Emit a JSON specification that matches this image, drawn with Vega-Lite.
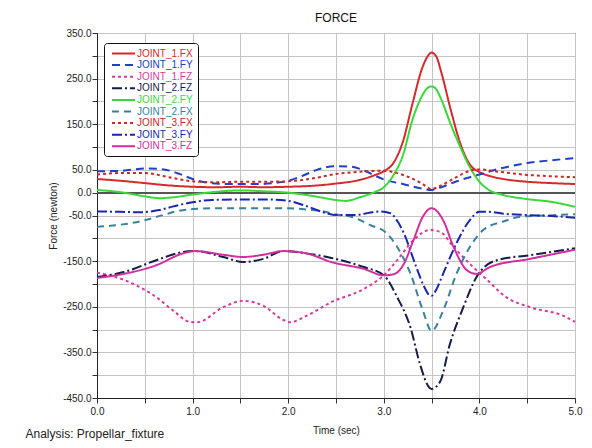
{
"$schema": "https://vega.github.io/schema/vega-lite/v6.json",
"width": 478, "height": 365,
"autosize": "none",
"padding": {"left": 97, "top": 33, "right": 17, "bottom": 50},
"background": "white",
"config": {"view": {"stroke": "#222", "strokeWidth": 1}, "font": "Liberation Sans"},
"title": {"text": "FORCE", "fontSize": 12, "font": "Liberation Sans", "fontWeight": "normal", "color": "#111", "offset": 3, "anchor": "middle"},
"data": {"values": [
{"s":"JOINT_1.FX","t":0,"v":30},{"s":"JOINT_1.FX","t":0.25,"v":26},{"s":"JOINT_1.FX","t":0.5,"v":21},{"s":"JOINT_1.FX","t":0.75,"v":16},{"s":"JOINT_1.FX","t":1,"v":13},{"s":"JOINT_1.FX","t":1.25,"v":12},{"s":"JOINT_1.FX","t":1.5,"v":13},{"s":"JOINT_1.FX","t":1.75,"v":12},{"s":"JOINT_1.FX","t":2,"v":13},{"s":"JOINT_1.FX","t":2.25,"v":15},{"s":"JOINT_1.FX","t":2.5,"v":20},{"s":"JOINT_1.FX","t":2.75,"v":28},{"s":"JOINT_1.FX","t":2.9,"v":38},{"s":"JOINT_1.FX","t":3,"v":47},{"s":"JOINT_1.FX","t":3.1,"v":65},{"s":"JOINT_1.FX","t":3.2,"v":112},{"s":"JOINT_1.FX","t":3.3,"v":195},{"s":"JOINT_1.FX","t":3.4,"v":272},{"s":"JOINT_1.FX","t":3.45,"v":296},{"s":"JOINT_1.FX","t":3.5,"v":307},{"s":"JOINT_1.FX","t":3.55,"v":298},{"s":"JOINT_1.FX","t":3.6,"v":265},{"s":"JOINT_1.FX","t":3.7,"v":182},{"s":"JOINT_1.FX","t":3.8,"v":108},{"s":"JOINT_1.FX","t":3.9,"v":62},{"s":"JOINT_1.FX","t":4,"v":45},{"s":"JOINT_1.FX","t":4.1,"v":37},{"s":"JOINT_1.FX","t":4.25,"v":30},{"s":"JOINT_1.FX","t":4.5,"v":24},{"s":"JOINT_1.FX","t":4.75,"v":21},{"s":"JOINT_1.FX","t":5,"v":19},
{"s":"JOINT_1.FY","t":0,"v":47},{"s":"JOINT_1.FY","t":0.25,"v":48},{"s":"JOINT_1.FY","t":0.5,"v":53},{"s":"JOINT_1.FY","t":0.7,"v":51},{"s":"JOINT_1.FY","t":0.85,"v":42},{"s":"JOINT_1.FY","t":1,"v":30},{"s":"JOINT_1.FY","t":1.15,"v":22},{"s":"JOINT_1.FY","t":1.35,"v":19},{"s":"JOINT_1.FY","t":1.5,"v":19},{"s":"JOINT_1.FY","t":1.7,"v":19},{"s":"JOINT_1.FY","t":1.85,"v":21},{"s":"JOINT_1.FY","t":2,"v":26},{"s":"JOINT_1.FY","t":2.15,"v":37},{"s":"JOINT_1.FY","t":2.3,"v":50},{"s":"JOINT_1.FY","t":2.5,"v":58},{"s":"JOINT_1.FY","t":2.65,"v":57},{"s":"JOINT_1.FY","t":2.8,"v":48},{"s":"JOINT_1.FY","t":2.9,"v":38},{"s":"JOINT_1.FY","t":3,"v":29},{"s":"JOINT_1.FY","t":3.2,"v":19},{"s":"JOINT_1.FY","t":3.4,"v":9},{"s":"JOINT_1.FY","t":3.5,"v":6},{"s":"JOINT_1.FY","t":3.6,"v":12},{"s":"JOINT_1.FY","t":3.75,"v":24},{"s":"JOINT_1.FY","t":3.9,"v":34},{"s":"JOINT_1.FY","t":4,"v":40},{"s":"JOINT_1.FY","t":4.2,"v":52},{"s":"JOINT_1.FY","t":4.5,"v":65},{"s":"JOINT_1.FY","t":4.75,"v":71},{"s":"JOINT_1.FY","t":5,"v":76},
{"s":"JOINT_1.FZ","t":0,"v":-175},{"s":"JOINT_1.FZ","t":0.28,"v":-191},{"s":"JOINT_1.FZ","t":0.62,"v":-229},{"s":"JOINT_1.FZ","t":0.8,"v":-259},{"s":"JOINT_1.FZ","t":0.97,"v":-283},{"s":"JOINT_1.FZ","t":1.05,"v":-284},{"s":"JOINT_1.FZ","t":1.32,"v":-251},{"s":"JOINT_1.FZ","t":1.53,"v":-237},{"s":"JOINT_1.FZ","t":1.74,"v":-248},{"s":"JOINT_1.FZ","t":1.95,"v":-279},{"s":"JOINT_1.FZ","t":2.02,"v":-284},{"s":"JOINT_1.FZ","t":2.19,"v":-270},{"s":"JOINT_1.FZ","t":2.45,"v":-240},{"s":"JOINT_1.FZ","t":2.79,"v":-211},{"s":"JOINT_1.FZ","t":3,"v":-181},{"s":"JOINT_1.FZ","t":3.14,"v":-148},{"s":"JOINT_1.FZ","t":3.31,"v":-104},{"s":"JOINT_1.FZ","t":3.48,"v":-82},{"s":"JOINT_1.FZ","t":3.59,"v":-86},{"s":"JOINT_1.FZ","t":3.73,"v":-119},{"s":"JOINT_1.FZ","t":3.9,"v":-156},{"s":"JOINT_1.FZ","t":4.07,"v":-189},{"s":"JOINT_1.FZ","t":4.28,"v":-229},{"s":"JOINT_1.FZ","t":4.53,"v":-251},{"s":"JOINT_1.FZ","t":4.88,"v":-270},{"s":"JOINT_1.FZ","t":5,"v":-283},
{"s":"JOINT_2.FZ","t":0,"v":-185},{"s":"JOINT_2.FZ","t":0.28,"v":-174},{"s":"JOINT_2.FZ","t":0.62,"v":-148},{"s":"JOINT_2.FZ","t":0.9,"v":-130},{"s":"JOINT_2.FZ","t":1.03,"v":-128},{"s":"JOINT_2.FZ","t":1.32,"v":-141},{"s":"JOINT_2.FZ","t":1.53,"v":-152},{"s":"JOINT_2.FZ","t":1.74,"v":-145},{"s":"JOINT_2.FZ","t":1.95,"v":-128},{"s":"JOINT_2.FZ","t":2.19,"v":-133},{"s":"JOINT_2.FZ","t":2.45,"v":-143},{"s":"JOINT_2.FZ","t":2.79,"v":-163},{"s":"JOINT_2.FZ","t":3,"v":-181},{"s":"JOINT_2.FZ","t":3.14,"v":-229},{"s":"JOINT_2.FZ","t":3.28,"v":-296},{"s":"JOINT_2.FZ","t":3.38,"v":-377},{"s":"JOINT_2.FZ","t":3.48,"v":-428},{"s":"JOINT_2.FZ","t":3.5,"v":-430},{"s":"JOINT_2.FZ","t":3.59,"v":-414},{"s":"JOINT_2.FZ","t":3.69,"v":-333},{"s":"JOINT_2.FZ","t":3.83,"v":-252},{"s":"JOINT_2.FZ","t":3.97,"v":-185},{"s":"JOINT_2.FZ","t":4.18,"v":-148},{"s":"JOINT_2.FZ","t":4.53,"v":-137},{"s":"JOINT_2.FZ","t":5,"v":-122},
{"s":"JOINT_2.FY","t":0,"v":6},{"s":"JOINT_2.FY","t":0.25,"v":1},{"s":"JOINT_2.FY","t":0.5,"v":-8},{"s":"JOINT_2.FY","t":0.65,"v":-12},{"s":"JOINT_2.FY","t":0.8,"v":-10},{"s":"JOINT_2.FY","t":1,"v":-4},{"s":"JOINT_2.FY","t":1.25,"v":2},{"s":"JOINT_2.FY","t":1.5,"v":5},{"s":"JOINT_2.FY","t":1.75,"v":3},{"s":"JOINT_2.FY","t":2,"v":0},{"s":"JOINT_2.FY","t":2.25,"v":-7},{"s":"JOINT_2.FY","t":2.5,"v":-16},{"s":"JOINT_2.FY","t":2.6,"v":-18},{"s":"JOINT_2.FY","t":2.75,"v":-10},{"s":"JOINT_2.FY","t":2.9,"v":1},{"s":"JOINT_2.FY","t":3,"v":12},{"s":"JOINT_2.FY","t":3.1,"v":38},{"s":"JOINT_2.FY","t":3.2,"v":82},{"s":"JOINT_2.FY","t":3.3,"v":160},{"s":"JOINT_2.FY","t":3.4,"v":212},{"s":"JOINT_2.FY","t":3.45,"v":228},{"s":"JOINT_2.FY","t":3.5,"v":233},{"s":"JOINT_2.FY","t":3.55,"v":226},{"s":"JOINT_2.FY","t":3.6,"v":205},{"s":"JOINT_2.FY","t":3.7,"v":150},{"s":"JOINT_2.FY","t":3.8,"v":100},{"s":"JOINT_2.FY","t":3.9,"v":56},{"s":"JOINT_2.FY","t":4,"v":24},{"s":"JOINT_2.FY","t":4.1,"v":6},{"s":"JOINT_2.FY","t":4.25,"v":-5},{"s":"JOINT_2.FY","t":4.5,"v":-14},{"s":"JOINT_2.FY","t":4.75,"v":-20},{"s":"JOINT_2.FY","t":5,"v":-31},
{"s":"JOINT_2.FX","t":0,"v":-75},{"s":"JOINT_2.FX","t":0.25,"v":-70},{"s":"JOINT_2.FX","t":0.45,"v":-63},{"s":"JOINT_2.FX","t":0.69,"v":-49},{"s":"JOINT_2.FX","t":0.85,"v":-40},{"s":"JOINT_2.FX","t":1,"v":-36},{"s":"JOINT_2.FX","t":1.25,"v":-34},{"s":"JOINT_2.FX","t":1.5,"v":-34},{"s":"JOINT_2.FX","t":1.75,"v":-34},{"s":"JOINT_2.FX","t":2,"v":-34},{"s":"JOINT_2.FX","t":2.2,"v":-37},{"s":"JOINT_2.FX","t":2.37,"v":-41},{"s":"JOINT_2.FX","t":2.5,"v":-48},{"s":"JOINT_2.FX","t":2.65,"v":-52},{"s":"JOINT_2.FX","t":2.86,"v":-71},{"s":"JOINT_2.FX","t":3.03,"v":-89},{"s":"JOINT_2.FX","t":3.14,"v":-119},{"s":"JOINT_2.FX","t":3.28,"v":-178},{"s":"JOINT_2.FX","t":3.41,"v":-259},{"s":"JOINT_2.FX","t":3.5,"v":-303},{"s":"JOINT_2.FX","t":3.62,"v":-259},{"s":"JOINT_2.FX","t":3.76,"v":-178},{"s":"JOINT_2.FX","t":3.9,"v":-119},{"s":"JOINT_2.FX","t":4.04,"v":-82},{"s":"JOINT_2.FX","t":4.25,"v":-63},{"s":"JOINT_2.FX","t":4.46,"v":-52},{"s":"JOINT_2.FX","t":4.7,"v":-50},{"s":"JOINT_2.FX","t":5,"v":-47},
{"s":"JOINT_3.FX","t":0,"v":40},{"s":"JOINT_3.FX","t":0.25,"v":43},{"s":"JOINT_3.FX","t":0.5,"v":43},{"s":"JOINT_3.FX","t":0.75,"v":34},{"s":"JOINT_3.FX","t":1,"v":25},{"s":"JOINT_3.FX","t":1.25,"v":23},{"s":"JOINT_3.FX","t":1.5,"v":24},{"s":"JOINT_3.FX","t":1.75,"v":24},{"s":"JOINT_3.FX","t":2,"v":25},{"s":"JOINT_3.FX","t":2.25,"v":31},{"s":"JOINT_3.FX","t":2.5,"v":41},{"s":"JOINT_3.FX","t":2.75,"v":46},{"s":"JOINT_3.FX","t":3,"v":48},{"s":"JOINT_3.FX","t":3.1,"v":45},{"s":"JOINT_3.FX","t":3.25,"v":35},{"s":"JOINT_3.FX","t":3.4,"v":20},{"s":"JOINT_3.FX","t":3.5,"v":8},{"s":"JOINT_3.FX","t":3.6,"v":16},{"s":"JOINT_3.FX","t":3.75,"v":33},{"s":"JOINT_3.FX","t":3.9,"v":48},{"s":"JOINT_3.FX","t":4,"v":51},{"s":"JOINT_3.FX","t":4.2,"v":46},{"s":"JOINT_3.FX","t":4.5,"v":39},{"s":"JOINT_3.FX","t":4.75,"v":36},{"s":"JOINT_3.FX","t":5,"v":34},
{"s":"JOINT_3.FY","t":0,"v":-41},{"s":"JOINT_3.FY","t":0.25,"v":-42},{"s":"JOINT_3.FY","t":0.45,"v":-43},{"s":"JOINT_3.FY","t":0.65,"v":-38},{"s":"JOINT_3.FY","t":0.8,"v":-30},{"s":"JOINT_3.FY","t":1,"v":-21},{"s":"JOINT_3.FY","t":1.2,"v":-16},{"s":"JOINT_3.FY","t":1.5,"v":-15},{"s":"JOINT_3.FY","t":1.8,"v":-15},{"s":"JOINT_3.FY","t":2,"v":-18},{"s":"JOINT_3.FY","t":2.2,"v":-30},{"s":"JOINT_3.FY","t":2.4,"v":-45},{"s":"JOINT_3.FY","t":2.5,"v":-49},{"s":"JOINT_3.FY","t":2.7,"v":-49},{"s":"JOINT_3.FY","t":2.85,"v":-44},{"s":"JOINT_3.FY","t":2.96,"v":-41},{"s":"JOINT_3.FY","t":3.07,"v":-45},{"s":"JOINT_3.FY","t":3.15,"v":-65},{"s":"JOINT_3.FY","t":3.21,"v":-89},{"s":"JOINT_3.FY","t":3.34,"v":-163},{"s":"JOINT_3.FY","t":3.42,"v":-205},{"s":"JOINT_3.FY","t":3.48,"v":-225},{"s":"JOINT_3.FY","t":3.5,"v":-226},{"s":"JOINT_3.FY","t":3.55,"v":-212},{"s":"JOINT_3.FY","t":3.62,"v":-178},{"s":"JOINT_3.FY","t":3.76,"v":-111},{"s":"JOINT_3.FY","t":3.9,"v":-60},{"s":"JOINT_3.FY","t":4,"v":-42},{"s":"JOINT_3.FY","t":4.1,"v":-42},{"s":"JOINT_3.FY","t":4.25,"v":-46},{"s":"JOINT_3.FY","t":4.5,"v":-49},{"s":"JOINT_3.FY","t":4.75,"v":-51},{"s":"JOINT_3.FY","t":5,"v":-55},
{"s":"JOINT_3.FZ","t":0,"v":-187},{"s":"JOINT_3.FZ","t":0.28,"v":-178},{"s":"JOINT_3.FZ","t":0.62,"v":-159},{"s":"JOINT_3.FZ","t":0.9,"v":-133},{"s":"JOINT_3.FZ","t":1.03,"v":-128},{"s":"JOINT_3.FZ","t":1.32,"v":-136},{"s":"JOINT_3.FZ","t":1.53,"v":-141},{"s":"JOINT_3.FZ","t":1.74,"v":-136},{"s":"JOINT_3.FZ","t":1.95,"v":-128},{"s":"JOINT_3.FZ","t":2.19,"v":-133},{"s":"JOINT_3.FZ","t":2.45,"v":-152},{"s":"JOINT_3.FZ","t":2.79,"v":-167},{"s":"JOINT_3.FZ","t":3,"v":-181},{"s":"JOINT_3.FZ","t":3.1,"v":-179},{"s":"JOINT_3.FZ","t":3.21,"v":-156},{"s":"JOINT_3.FZ","t":3.31,"v":-104},{"s":"JOINT_3.FZ","t":3.41,"v":-52},{"s":"JOINT_3.FZ","t":3.5,"v":-34},{"s":"JOINT_3.FZ","t":3.62,"v":-60},{"s":"JOINT_3.FZ","t":3.73,"v":-119},{"s":"JOINT_3.FZ","t":3.87,"v":-170},{"s":"JOINT_3.FZ","t":3.97,"v":-178},{"s":"JOINT_3.FZ","t":4.11,"v":-163},{"s":"JOINT_3.FZ","t":4.53,"v":-145},{"s":"JOINT_3.FZ","t":5,"v":-125}
]},
"layer": [
{"mark": {"type": "rule", "color": "#555", "strokeWidth": 1.5},
 "encoding": {"y": {"datum": 0, "type": "quantitative", "scale": {"domain": [-450, 350], "nice": false, "zero": false},
   "axis": {"orient": "left", "labels": false, "ticks": false, "domain": false, "grid": false, "title": "Analysis: Propellar_fixture", "titleAngle": 0, "titleAlign": "left", "titleBaseline": "alphabetic", "titleX": -72, "titleY": 404, "titleFontSize": 12, "titleFontWeight": "normal", "titleColor": "#222", "titleFont": "Liberation Sans"}}}},
{"mark": {"type": "line", "strokeWidth": 2, "interpolate": "monotone"},
 "encoding": {
  "x": {"field": "t", "type": "quantitative", "scale": {"domain": [0, 5], "nice": false, "zero": false},
    "axis": {"values": [0,0.5,1,1.5,2,2.5,3,3.5,4,4.5,5], "labelExpr": "datum.value % 1 == 0 ? format(datum.value, '.1f') : ''", "labelFlush": false, "grid": true, "gridColor": "#c4c4c4", "tickColor": "#333", "tickSize": 5, "labelPadding": 3, "domainColor": "#222", "labelFontSize": 10, "labelColor": "#222", "labelFont": "Liberation Sans", "title": "Time (sec)", "titleFontSize": 10, "titleFontWeight": "normal", "titleColor": "#222", "titleFont": "Liberation Sans", "titlePadding": 9}},
  "y": {"field": "v", "type": "quantitative", "scale": {"domain": [-450, 350], "nice": false, "zero": false},
    "axis": {"orient": "left", "values": [-450,-400,-350,-300,-250,-200,-150,-100,-50,0,50,100,150,200,250,300,350], "labelExpr": "(datum.value == 0 || abs(datum.value) % 100 == 50) ? (datum.value < 0 ? '-' : '') + format(abs(datum.value), '.1f') : ''", "labelFlush": false, "grid": true, "gridColor": "#c4c4c4", "tickColor": "#333", "tickSize": 5, "labelPadding": 1, "domainColor": "#222", "labelFontSize": 10, "labelColor": "#222", "labelFont": "Liberation Sans", "title": "Force (newton)", "titleFontSize": 10, "titleFontWeight": "normal", "titleColor": "#222", "titleFont": "Liberation Sans", "titlePadding": 4}},
  "color": {"field": "s", "type": "nominal",
    "scale": {"domain": ["JOINT_1.FX","JOINT_1.FY","JOINT_1.FZ","JOINT_2.FZ","JOINT_2.FY","JOINT_2.FX","JOINT_3.FX","JOINT_3.FY","JOINT_3.FZ"],
      "range": ["#d42a2a","#2040c8","#d63c96","#161c48","#3ad83a","#3c80a0","#c82828","#1a26b0","#d22ea0"]},
    "legend": {"orient": "none", "legendX": 7, "legendY": 10, "title": null, "padding": 4.5, "rowPadding": 0.6, "strokeColor": "#111", "fillColor": "white", "cornerRadius": 3, "symbolType": "M-0.5,0H4.1", "symbolSize": 100, "symbolStrokeWidth": 2, "labelOffset": 16.5, "labelFontSize": 10, "labelFont": "Liberation Sans", "labelLimit": 200, "encode": {"labels": {"update": {"fill": {"scale": "color", "field": "value"}}}}}},
  "strokeDash": {"field": "s", "type": "nominal",
    "scale": {"domain": ["JOINT_1.FX","JOINT_1.FY","JOINT_1.FZ","JOINT_2.FZ","JOINT_2.FY","JOINT_2.FX","JOINT_3.FX","JOINT_3.FY","JOINT_3.FZ"],
      "range": [[1,0],[8,5],[3,3],[10,3,2,3],[1,0],[7,5],[3,3],[10,3,2,3],[1,0]]},
    "legend": {"orient": "none", "legendX": 7, "legendY": 10, "title": null, "padding": 4.5, "rowPadding": 0.6, "strokeColor": "#111", "fillColor": "white", "cornerRadius": 3, "symbolType": "M-0.5,0H4.1", "symbolSize": 100, "symbolStrokeWidth": 2, "labelOffset": 16.5, "labelFontSize": 10, "labelFont": "Liberation Sans", "labelLimit": 200, "encode": {"labels": {"update": {"fill": {"scale": "color", "field": "value"}}}}}}
 }}
],
"resolve": {"axis": {"y": "independent"}}
}
